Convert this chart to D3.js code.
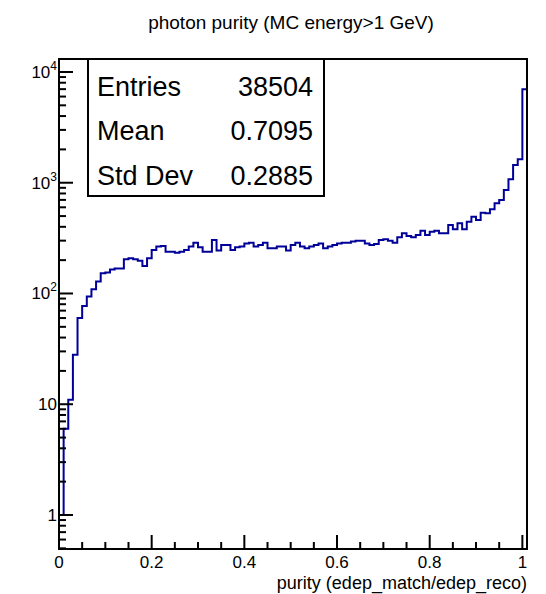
<!DOCTYPE html>
<html lang="en">
<head>
  <meta charset="UTF-8">
  <title>photon purity</title>
  <script src="https://d3js.org/d3.v7.min.js"></script>
  <style>
    body { margin: 0; background: #fff; font-family: "Liberation Sans", Arial, sans-serif; }
    svg text { fill: #000; }
  </style>
</head>
<body>
  <svg width="546" height="594"></svg>
  <script>
    const title = "photon purity (MC energy>1 GeV)";
    const xTitle = "purity (edep_match/edep_reco)";
    const binWidth = 0.01;
    const xMax = 1.01;
    // counts per bin (bins of 0.01 from 0 to 1.01)
    const counts = [
      1, 6, 11, 28, 60, 77, 94, 109, 128, 152,
      155, 165, 168, 168, 204, 208, 204, 197, 177, 208,
      247, 265, 268, 238, 238, 233, 238, 247, 265, 287,
      262, 238, 238, 304, 244, 274, 274, 247, 262, 265,
      283, 287, 265, 274, 287, 256, 256, 265, 265, 244,
      274, 287, 265, 256, 265, 274, 283, 256, 265, 274,
      283, 287, 287, 294, 300, 300, 283, 274, 280, 304,
      309, 300, 287, 322, 350, 330, 322, 337, 369, 337,
      361, 369, 350, 350, 416, 380, 431, 380, 445, 494,
      461, 537, 530, 576, 653, 699, 860, 1074, 1446, 1630,
      6980
    ];
    const statNames = ["Entries", "Mean", "Std Dev"];
    const statValues = ["38504", "0.7095", "0.2885"];
    const xTicks = [0, 0.2, 0.4, 0.6, 0.8, 1];
    const yTicks = [1, 10, 100, 1000, 10000];

    const svg = d3.select("svg");
    const frame = { left: 59, right: 527, top: 59, bottom: 549 };

    const x = d3.scaleLinear().domain([0, xMax]).range([frame.left, frame.right]);
    const y = d3.scaleLog().domain([0.493, 13100]).range([frame.bottom, frame.top]);

    // title
    svg.append("text")
      .attr("x", 291).attr("y", 29)
      .attr("text-anchor", "middle")
      .style("font-size", "19px")
      .text(title);

    // histogram outline
    const pts = [[x(0), frame.bottom]];
    counts.forEach((c, i) => {
      pts.push([x(i * binWidth), y(c)]);
      pts.push([x((i + 1) * binWidth), y(c)]);
    });
    pts.push([x(counts.length * binWidth), frame.bottom]);

    svg.append("path")
      .attr("d", d3.line()(pts))
      .attr("fill", "none")
      .attr("stroke", "#000099")
      .attr("stroke-width", 2);

    // x axis ticks
    const gx = svg.append("g");
    d3.range(0, 21).map(i => i * 0.05).forEach(v => {
      const major = Math.abs(v / 0.2 - Math.round(v / 0.2)) < 1e-6;
      gx.append("line")
        .attr("x1", x(v)).attr("x2", x(v))
        .attr("y1", frame.bottom).attr("y2", frame.bottom - (major ? 14 : 7))
        .attr("stroke", "#000").attr("stroke-width", 2);
    });
    xTicks.forEach(v => {
      gx.append("text")
        .attr("x", x(v)).attr("y", 568)
        .attr("text-anchor", "middle")
        .style("font-size", "17px")
        .text(v === 0 || v === 1 ? String(v) : v.toFixed(1));
    });
    svg.append("text")
      .attr("x", frame.right).attr("y", 589)
      .attr("text-anchor", "end")
      .style("font-size", "18px")
      .text(xTitle);

    // y axis ticks (log)
    const gy = svg.append("g");
    const [ymin, ymax] = y.domain();
    for (let d = -1; d <= 4; d++) {
      for (let k = 1; k <= 9; k++) {
        const v = k * Math.pow(10, d);
        if (v < ymin || v > ymax) continue;
        gy.append("line")
          .attr("x1", frame.left).attr("x2", frame.left + (k === 1 ? 14 : 7))
          .attr("y1", y(v)).attr("y2", y(v))
          .attr("stroke", "#000").attr("stroke-width", 2);
      }
    }
    yTicks.forEach(v => {
      const t = gy.append("text")
        .attr("x", 57).attr("y", y(v) + 6)
        .attr("text-anchor", "end")
        .style("font-size", "17px");
      if (v < 100) {
        t.text(String(v));
      } else {
        t.append("tspan").text("10");
        t.append("tspan")
          .attr("dy", -8)
          .style("font-size", "12px")
          .text(String(Math.round(Math.log10(v))));
      }
    });

    // frame
    svg.append("rect")
      .attr("x", frame.left).attr("y", frame.top)
      .attr("width", frame.right - frame.left)
      .attr("height", frame.bottom - frame.top)
      .attr("fill", "none")
      .attr("stroke", "#000").attr("stroke-width", 2);

    // stats box
    const box = { x: 88, y: 59, w: 236, h: 137 };
    svg.append("rect")
      .attr("x", box.x).attr("y", box.y)
      .attr("width", box.w).attr("height", box.h)
      .attr("fill", "#fff")
      .attr("stroke", "#000").attr("stroke-width", 2);
    statNames.forEach((n, i) => {
      const by = 96 + i * 44.3;
      svg.append("text")
        .attr("x", 97).attr("y", by)
        .style("font-size", "27px")
        .text(n);
      svg.append("text")
        .attr("x", 313).attr("y", by)
        .attr("text-anchor", "end")
        .style("font-size", "27px")
        .text(statValues[i]);
    });
  </script>
</body>
</html>
